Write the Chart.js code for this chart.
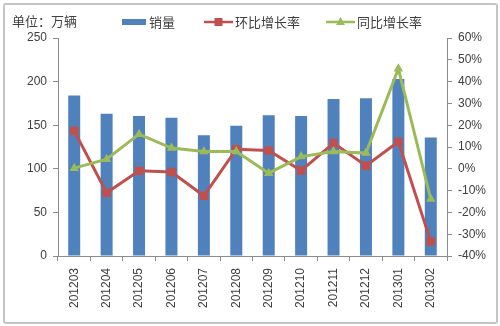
<!DOCTYPE html>
<html>
<head>
<meta charset="utf-8">
<script src="https://cdn.jsdelivr.net/npm/chart.js@4.4.1/dist/chart.umd.min.js"></script>
<style>
  html, body { margin: 0; padding: 0; background: #fff; }
  #wrap { position: absolute; left: 0; top: 0; width: 500px; height: 326px; }
  #frame { position: absolute; left: 3px; top: 3px; width: 491px; height: 317px; border: 2px solid #c4c4c4; border-radius: 3px; pointer-events: none; }
</style>
</head>
<body>
<div id="wrap">
  <canvas id="myChart" width="500" height="326"></canvas>
  <div id="frame"></div>
</div>
<script>
const months = ["201203","201204","201205","201206","201207","201208","201209","201210","201211","201212","201301","201302"];
const sales = [184, 163, 160.5, 158.5, 138.5, 149.5, 161.5, 160.5, 180, 181, 203, 136];
const momRate = [17.4, -11, -0.9, -1.5, -12.4, 9, 8.4, -0.8, 11.8, 1.4, 12.4, -33.4];
const yoyRate = [0.3, 4.4, 15.9, 9.5, 7.9, 7.9, -2, 5.6, 7.9, 7.2, 45.9, -13.9];
const unitLabel = "单位：万辆";
const legendNames = ["销量", "环比增长率", "同比增长率"];

const blue = "#4f81bd";
const red = "#c0504d";
const green = "#9bbb59";
const axisColor = "#8c8c8c";
const textColor = "#404040";
const cjk = "'Noto Sans CJK SC', 'Liberation Sans', sans-serif";
const latin = "'Liberation Sans', 'DejaVu Sans', sans-serif";

// legend + unit text, drawn like the excel header
const headerPlugin = {
  id: "header",
  afterDraw(chart) {
    const ctx = chart.ctx;
    ctx.save();
    ctx.fillStyle = textColor;
    ctx.font = "13px " + cjk;
    ctx.textBaseline = "middle";
    ctx.textAlign = "left";
    ctx.fillText(unitLabel, 12, 21);

    let y = 22;
    // bar item
    ctx.fillStyle = blue;
    ctx.fillRect(122, y - 3, 24, 6);
    ctx.fillStyle = textColor;
    ctx.fillText(legendNames[0], 149, y);

    // red line item
    ctx.strokeStyle = red;
    ctx.lineWidth = 2.5;
    ctx.beginPath(); ctx.moveTo(204, y); ctx.lineTo(233, y); ctx.stroke();
    ctx.fillStyle = red;
    ctx.fillRect(214.5, y - 4, 8, 8);
    ctx.fillStyle = textColor;
    ctx.fillText(legendNames[1], 235, y);

    // green line item
    ctx.strokeStyle = green;
    ctx.beginPath(); ctx.moveTo(326, y); ctx.lineTo(355, y); ctx.stroke();
    ctx.fillStyle = green;
    ctx.beginPath();
    ctx.moveTo(340.5, y - 5); ctx.lineTo(345, y + 3); ctx.lineTo(336, y + 3); ctx.closePath(); ctx.fill();
    ctx.fillStyle = textColor;
    ctx.fillText(legendNames[2], 357, y);
    ctx.restore();
  }
};

const ctx = document.getElementById("myChart").getContext("2d");
const chart = new Chart(ctx, {
  type: "bar",
  data: {
    labels: months,
    datasets: [{
      type: "line",
      label: legendNames[2],
      data: yoyRate,
      yAxisID: "y1",
      borderColor: green,
      backgroundColor: green,
      borderWidth: 3,
      pointStyle: "triangle",
      pointRadius: 5.5,
      pointBorderWidth: 0,
      tension: 0,
      order: 0
    }, {
      type: "line",
      label: legendNames[1],
      data: momRate,
      yAxisID: "y1",
      borderColor: red,
      backgroundColor: red,
      borderWidth: 3,
      pointStyle: "rect",
      pointRadius: 6,
      pointBorderWidth: 0,
      tension: 0,
      order: 1
    }, {
      label: legendNames[0],
      data: sales,
      yAxisID: "y",
      backgroundColor: blue,
      categoryPercentage: 1,
      barPercentage: 0.37,
      order: 2
    }]
  },
  options: {
    responsive: false,
    animation: false,
    layout: { padding: { top: 38, left: 0, right: 0, bottom: 0 } },
    plugins: { legend: { display: false }, tooltip: { enabled: false } },
    scales: {
      x: {
        offset: true,
        grid: { display: true, offset: true, drawOnChartArea: false, drawTicks: true, tickLength: 5, color: axisColor },
        border: { color: axisColor, width: 1 },
        ticks: { minRotation: 90, maxRotation: 90, color: textColor, font: { family: latin, size: 12 }, padding: 7 },
        afterFit(scale) { scale.height = 70; }
      },
      y: {
        position: "left",
        min: 0, max: 250,
        ticks: { stepSize: 50, color: textColor, font: { family: latin, size: 12 }, padding: 6 },
        grid: { drawOnChartArea: false, drawTicks: true, tickLength: 5, color: axisColor },
        border: { color: axisColor, width: 1 },
        afterFit(scale) { scale.width = 58; }
      },
      y1: {
        position: "right",
        min: -40, max: 60,
        ticks: { stepSize: 10, color: textColor, font: { family: latin, size: 12 }, padding: 6,
          callback: v => v + "%" },
        grid: { drawOnChartArea: false, drawTicks: true, tickLength: 5, color: axisColor },
        border: { color: axisColor, width: 1 },
        afterFit(scale) { scale.width = 53; }
      }
    }
  },
  plugins: [headerPlugin]
});
</script>
</body>
</html>
